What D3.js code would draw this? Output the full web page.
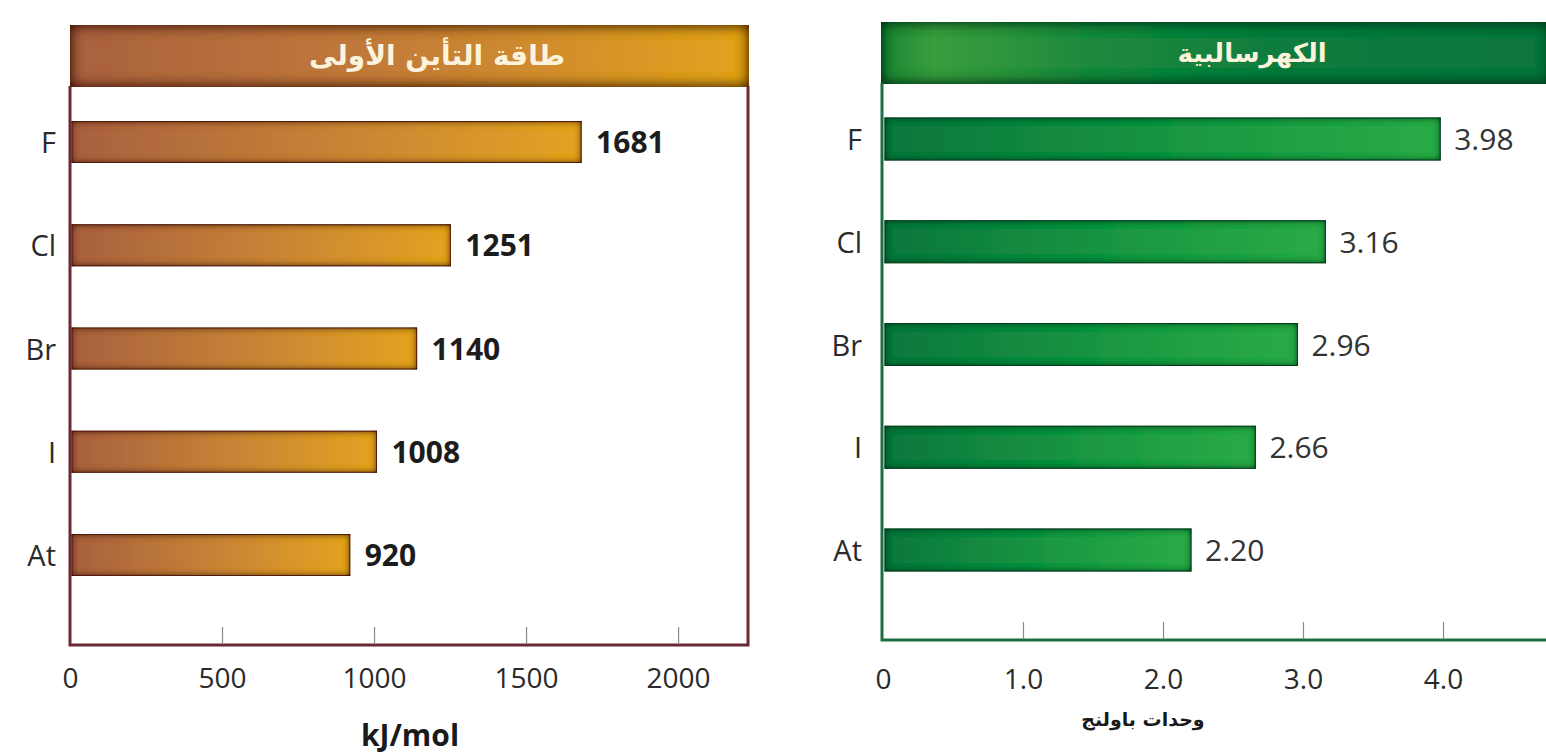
<!DOCTYPE html>
<html>
<head>
<meta charset="utf-8">
<script src="https://cdn.jsdelivr.net/npm/d3@7"></script>
<style>
  html, body { margin: 0; padding: 0; background: #fff; }
  svg { display: block; }
</style>
</head>
<body>
<svg id="chart" width="1546" height="755"></svg>
<script>
// ---- data ----
const elements = ["F", "Cl", "Br", "I", "At"];
const ionizationEnergy = [1681, 1251, 1140, 1008, 920];
const electronegativity = [3.98, 3.16, 2.96, 2.66, 2.20];
const ieTicks = [0, 500, 1000, 1500, 2000];
const enTicks = [0, 1.0, 2.0, 3.0, 4.0];
const ieTitle = "طاقة التأين الأولى";
const enTitle = "الكهرسالبية";
const ieUnit = "kJ/mol";
const enUnit = "وحدات باولنج";

const svg = d3.select("#chart");
const defs = svg.append("defs");

function linGrad(id, stops, x2 = "100%", y2 = "0%") {
  const g = defs.append("linearGradient").attr("id", id)
    .attr("x1", "0%").attr("y1", "0%").attr("x2", x2).attr("y2", y2);
  stops.forEach(([o, c]) => g.append("stop").attr("offset", o).attr("stop-color", c));
}
linGrad("brownBar", [["0%", "#a8603f"], ["55%", "#c98535"], ["100%", "#e3a322"]]);
linGrad("brownHead", [["0%", "#a9613f"], ["45%", "#c27a3a"], ["100%", "#e3a41e"]]);
linGrad("greenBar", [["0%", "#0a773c"], ["60%", "#1c9a42"], ["100%", "#2bab47"]]);
linGrad("greenHead", [["0%", "#1e8536"], ["8%", "#3a9d3e"], ["30%", "#1f8a3c"], ["60%", "#0f7c3c"], ["100%", "#0a763c"]]);

function innerShadow(id, color, sd, op, layers) {
  const f = defs.append("filter").attr("id", id)
    .attr("x", "-10%").attr("y", "-60%").attr("width", "120%").attr("height", "220%");
  f.append("feFlood").attr("flood-color", color).attr("flood-opacity", op).attr("result", "c");
  f.append("feComposite").attr("in", "c").attr("in2", "SourceAlpha").attr("operator", "out").attr("result", "outside");
  f.append("feGaussianBlur").attr("in", "outside").attr("stdDeviation", sd).attr("result", "blur");
  f.append("feComposite").attr("in", "blur").attr("in2", "SourceAlpha").attr("operator", "in").attr("result", "shadow");
  const m = f.append("feMerge");
  m.append("feMergeNode").attr("in", "SourceGraphic");
  for (let i = 0; i < layers; i++) m.append("feMergeNode").attr("in", "shadow");
}
innerShadow("brownShadow", "#3c1208", 3.5, 0.85, 2);
innerShadow("greenShadow", "#02381a", 3.5, 0.85, 2);
innerShadow("brownHeadShadow", "#3c0e0c", 7, 1, 2);
innerShadow("greenHeadShadow", "#013016", 7, 1, 2);

function panel(cfg) {
  const g = svg.append("g");
  const x = d3.scaleLinear().domain(cfg.domain).range(cfg.xRange);
  const y = d3.scalePoint().domain(elements).range(cfg.yRange);

  // header
  g.append("rect")
    .attr("x", cfg.head.x).attr("y", cfg.head.y)
    .attr("width", cfg.head.w).attr("height", cfg.head.h)
    .attr("fill", `url(#${cfg.headFill})`)
    .attr("filter", `url(#${cfg.headShadow})`);
  g.append("text")
    .attr("x", cfg.head.tx).attr("y", cfg.head.y + cfg.head.h / 2 + 9)
    .attr("text-anchor", "middle")
    .attr("font-family", "DejaVu Sans, sans-serif")
    .attr("font-weight", "bold").attr("font-size", cfg.head.size)
    .attr("fill", "#fbf3dc")
    .text(cfg.title);

  // frame
  g.append("path")
    .attr("d", cfg.framePath)
    .attr("fill", "none").attr("stroke", cfg.frameColor).attr("stroke-width", 3);

  // axis
  const axis = d3.axisBottom(x).tickValues(cfg.ticks).tickFormat(cfg.fmt)
    .tickSizeInner(-17).tickSizeOuter(0).tickPadding(0);
  const ag = g.append("g").attr("transform", `translate(0,${cfg.bottom - 1})`).call(axis);
  ag.select(".domain").remove();
  ag.selectAll(".tick line").attr("stroke", "#8a8a8a").attr("stroke-width", 1.2)
    .filter(d => d === 0).remove();
  ag.selectAll(".tick text")
    .attr("y", cfg.tickLabelY - cfg.bottom + 1).attr("dy", 0)
    .attr("font-family", "Open Sans, sans-serif").attr("font-size", 28)
    .attr("fill", "#2a2a2a");

  // bars
  g.selectAll(".bar").data(cfg.values).enter().append("rect")
    .attr("class", "bar")
    .attr("x", x(0) + 2)
    .attr("y", (d, i) => y(elements[i]) - cfg.barH / 2)
    .attr("width", d => x(d) - x(0) - 2)
    .attr("height", cfg.barH)
    .attr("fill", `url(#${cfg.barFill})`)
    .attr("stroke", cfg.barStroke).attr("stroke-width", 1)
    .attr("filter", `url(#${cfg.barShadow})`);

  // category labels
  g.selectAll(".cat").data(elements).enter().append("text")
    .attr("class", "cat")
    .attr("x", cfg.catX).attr("y", d => y(d) + 11)
    .attr("text-anchor", "end")
    .attr("font-family", "Open Sans, sans-serif").attr("font-size", 29)
    .attr("fill", "#2a2a2a")
    .text(d => d);

  // value labels
  g.selectAll(".val").data(cfg.values).enter().append("text")
    .attr("class", "val")
    .attr("x", d => x(d) + cfg.valGap)
    .attr("y", (d, i) => y(elements[i]) + 11)
    .attr("font-family", "Open Sans, sans-serif")
    .attr("font-size", cfg.valSize).attr("font-weight", cfg.valWeight)
    .attr("fill", cfg.valColor)
    .text(cfg.valFmt);

  // unit title
  g.append("text")
    .attr("x", cfg.unit.x).attr("y", cfg.unit.y)
    .attr("text-anchor", "middle")
    .attr("font-family", cfg.unit.font).attr("font-weight", "bold")
    .attr("font-size", cfg.unit.size).attr("fill", "#1a1a1a")
    .text(cfg.unit.text);
}

panel({
  values: ionizationEnergy,
  domain: [0, 2230], xRange: [70, 748], yRange: [142, 555],
  barH: 41, bottom: 645, tickLabelY: 688,
  head: { x: 70, y: 25, w: 679, h: 62, tx: 437, size: 28 },
  headFill: "brownHead", headShadow: "brownHeadShadow",
  title: ieTitle,
  framePath: "M70,86V645H748V86",
  frameColor: "#6a2a33",
  ticks: ieTicks, fmt: d3.format("d"),
  barFill: "brownBar", barShadow: "brownShadow", barStroke: "#6b3420",
  catX: 56, valGap: 15, valSize: 30, valWeight: "bold", valColor: "#1c1c1c",
  valFmt: d3.format("d"),
  unit: { x: 410, y: 746, size: 30, text: ieUnit, font: "Open Sans, sans-serif" }
});

panel({
  values: electronegativity,
  domain: [0, 4.75], xRange: [883, 1548], yRange: [139, 550],
  barH: 42, bottom: 640, tickLabelY: 689,
  head: { x: 881, y: 22, w: 670, h: 62, tx: 1252, size: 26 },
  headFill: "greenHead", headShadow: "greenHeadShadow",
  title: enTitle,
  framePath: "M882,83V640H1550",
  frameColor: "#1d6e44",
  ticks: enTicks, fmt: d => d === 0 ? "0" : d3.format(".1f")(d),
  barFill: "greenBar", barShadow: "greenShadow", barStroke: "#0b4a26",
  catX: 862, valGap: 14, valSize: 30, valWeight: "normal", valColor: "#333",
  valFmt: d3.format(".2f"),
  unit: { x: 1143, y: 726, size: 19, text: enUnit, font: "DejaVu Sans, sans-serif" }
});
</script>
</body>
</html>
